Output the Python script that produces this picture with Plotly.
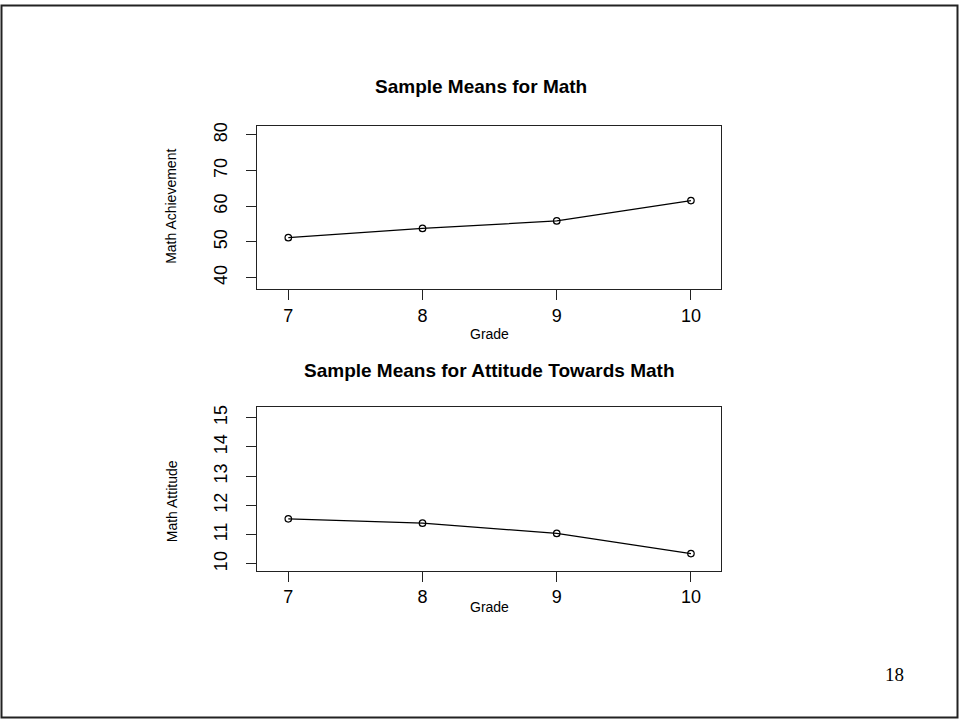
import plotly.graph_objects as go

grades = [7, 8, 9, 10]
math_achievement = [51.2, 53.8, 55.9, 61.6]
math_attitude = [11.54, 11.39, 11.04, 10.35]

title_top = "Sample Means for Math"
title_bottom = "Sample Means for Attitude Towards Math"
ytitle_top = "Math Achievement"
ytitle_bottom = "Math Attitude"
xtitle = "Grade"
page_number = "18"

W, H = 959, 719
FONT = "Liberation Sans, Arial, sans-serif"

def px_x(p):
    return p / W

def px_y(p):
    return 1 - p / H

fig = go.Figure()

line_style = dict(color="black", width=1.2)
marker_style = dict(symbol="circle-open", size=6.5, color="black", line=dict(width=1.2, color="black"))

fig.add_trace(go.Scatter(x=grades, y=math_achievement, mode="lines+markers",
                         line=line_style, marker=marker_style, xaxis="x", yaxis="y",
                         showlegend=False, hoverinfo="x+y"))
fig.add_trace(go.Scatter(x=grades, y=math_attitude, mode="lines+markers",
                         line=line_style, marker=marker_style, xaxis="x2", yaxis="y2",
                         showlegend=False, hoverinfo="x+y"))

axis_common = dict(showline=True, mirror=True, linecolor="#222", linewidth=1,
                   ticks="outside", ticklen=10, tickwidth=1, tickcolor="#222",
                   showgrid=False, zeroline=False,
                   tickfont=dict(family=FONT, size=18, color="black"))

xdom = [px_x(257.3), px_x(721)]

fig.update_layout(
    width=W, height=H,
    margin=dict(l=0, r=0, t=0, b=0),
    paper_bgcolor="white", plot_bgcolor="white",
    xaxis=dict(domain=xdom, range=[6.769, 10.224], tickvals=grades, anchor="y", **axis_common),
    yaxis=dict(domain=[px_y(286.7), px_y(122.7)], range=[36.8, 82.5], tick0=40, dtick=10,
               tickangle=-90, anchor="x", ticklabelstandoff=12, **axis_common),
    xaxis2=dict(domain=xdom, range=[6.769, 10.224], tickvals=grades, anchor="y2", **axis_common),
    yaxis2=dict(domain=[px_y(570), px_y(405.7)], range=[9.76, 15.35], tick0=10, dtick=1,
                tickangle=-90, anchor="x2", ticklabelstandoff=12, **axis_common),
)

ann = []
def add_text(text, x, y, size, bold=False, angle=0, family=FONT):
    ann.append(dict(text=f"<b>{text}</b>" if bold else text, x=px_x(x), y=px_y(y),
                    xref="paper", yref="paper", xanchor="center", yanchor="middle",
                    showarrow=False, textangle=angle,
                    font=dict(family=family, size=size, color="black")))

add_text(title_top, 480.5, 83, 19, bold=True)
add_text(title_bottom, 489, 369, 19, bold=True)
add_text(xtitle, 489, 332, 14)
add_text(xtitle, 489, 606.5, 14)
add_text(ytitle_top, 171, 204, 14, angle=-90)
add_text(ytitle_bottom, 172, 500, 14, angle=-90)
add_text(page_number, 894, 674, 19, family="Liberation Serif, Times New Roman, serif")
fig.update_layout(annotations=ann)

fig.add_shape(type="rect", xref="paper", yref="paper",
              x0=px_x(1.5), x1=px_x(957.5), y0=px_y(717.5), y1=px_y(1.5),
              line=dict(color="#222", width=2), fillcolor="rgba(0,0,0,0)")

fig.write_html("out.html",
               config={"displayModeBar": False},
               post_script="document.body.style.margin='0px';document.body.style.padding='0px';document.body.style.overflow='hidden';")
